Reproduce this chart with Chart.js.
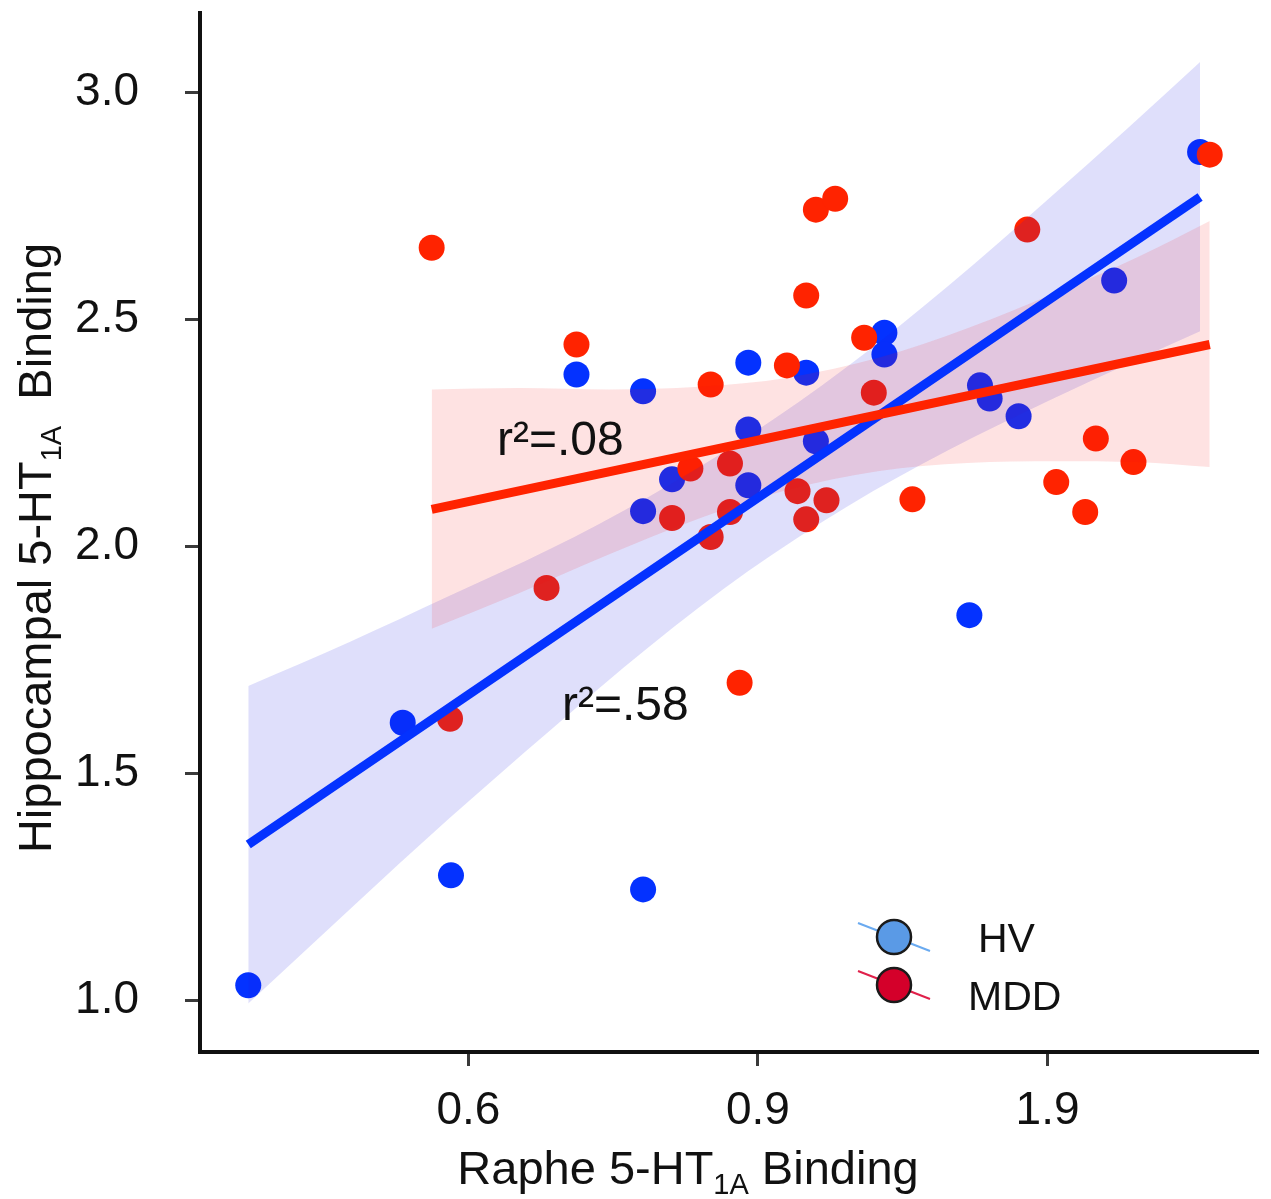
<!DOCTYPE html>
<html>
<head>
<meta charset="utf-8">
<script src="https://cdn.jsdelivr.net/npm/chart.js@4.4.0/dist/chart.umd.min.js"></script>
<style>
  html, body { margin: 0; padding: 0; background: #fff; }
  #wrap { width: 1271px; height: 1199px; }
</style>
</head>
<body>
<div id="wrap"><canvas id="chart" width="1271" height="1199"></canvas></div>
<script>
// values
const hvX = [0.372, 0.532, 0.582, 0.712, 0.781, 0.781, 0.781, 0.811, 0.890, 0.890, 0.890,
  0.950, 0.960, 1.031, 1.031, 1.119, 1.130, 1.140, 1.170, 1.269, 1.358];
const hvY = [1.033, 1.611, 1.275, 2.378, 2.341, 2.077, 1.244, 2.147, 2.404, 2.257, 2.134,
  2.382, 2.231, 2.470, 2.422, 1.848, 2.354, 2.325, 2.286, 2.585, 2.868];

const mddX = [0.562, 0.581, 0.681, 0.712, 0.811, 0.830, 0.851, 0.851, 0.871, 0.871, 0.881,
  0.930, 0.941, 0.950, 0.950, 0.960, 0.971, 0.980, 1.010, 1.020, 1.060, 1.179, 1.209,
  1.239, 1.250, 1.289, 1.368];
const mddY = [2.657, 1.620, 1.908, 2.444, 2.062, 2.171, 2.356, 2.020, 2.182, 2.075, 1.699,
  2.398, 2.121, 2.552, 2.059, 2.741, 2.101, 2.765, 2.459, 2.338, 2.103, 2.697, 2.141,
  2.075, 2.237, 2.185, 2.862];

// fitted lines (end points)
const hvFitX = [0.372, 1.358];
const hvFitY = [1.343, 2.769];
const mddFitX = [0.562, 1.368];
const mddFitY = [2.081, 2.444];

// confidence bands
const hvBandX = [0.372, 0.477, 0.580, 0.684, 0.787, 0.890, 0.993, 1.097, 1.200, 1.283, 1.358];
const hvBandHi = [1.692, 1.789, 1.890, 1.993, 2.109, 2.242, 2.396, 2.573, 2.763, 2.920, 3.066];
const hvBandLo = [0.993, 1.200, 1.400, 1.593, 1.778, 1.945, 2.088, 2.211, 2.319, 2.401, 2.473];

const mddBandX = [0.562, 0.653, 0.746, 0.839, 0.931, 1.024, 1.117, 1.210, 1.293, 1.368];
const mddBandHi = [2.345, 2.348, 2.345, 2.351, 2.371, 2.414, 2.480, 2.559, 2.636, 2.716];
const mddBandLo = [1.818, 1.897, 1.982, 2.061, 2.124, 2.165, 2.183, 2.187, 2.185, 2.174];

// axes
const xTickPos = [0.6, 0.9, 1.2];
const xTickLabels = ['0.6', '0.9', '1.9'];
const yTicks = [1.0, 1.5, 2.0, 2.5, 3.0];
const groupNames = ['HV', 'MDD'];
const r2Labels = ['r\u00B2=.08', 'r\u00B2=.58'];

const FAMILY = '"Liberation Sans", Arial, Helvetica, sans-serif';
const BLUE = '#0432ff';
const RED = '#ff2300';

function pts(xs, ys) {
  return xs.map((x, i) => ({ x, y: ys[i] }));
}

function drawRich(ctx, parts, size, x, y) {
  const subSize = Math.round(size * 0.62);
  const widths = parts.map(([t, sub]) => {
    ctx.font = `${sub ? subSize : size}px ${FAMILY}`;
    return ctx.measureText(t).width;
  });
  const total = widths.reduce((a, b) => a + b, 0);
  let cx = x - total / 2;
  parts.forEach(([t, sub], i) => {
    ctx.font = `${sub ? subSize : size}px ${FAMILY}`;
    ctx.fillText(t, cx, y + (sub ? size * 0.22 : 0));
    cx += widths[i];
  });
}

function legendGlyph(ctx, cx, cy, fill, lineColor) {
  ctx.strokeStyle = lineColor;
  ctx.lineWidth = 2;
  ctx.beginPath();
  ctx.moveTo(cx - 36, cy - 14);
  ctx.lineTo(cx + 36, cy + 14);
  ctx.stroke();
  ctx.beginPath();
  ctx.arc(cx, cy, 17, 0, Math.PI * 2);
  ctx.fillStyle = fill;
  ctx.fill();
  ctx.lineWidth = 2.5;
  ctx.strokeStyle = '#1a1a1a';
  ctx.stroke();
}

const decorations = {
  id: 'decorations',
  afterDraw(chart) {
    const ctx = chart.ctx;
    ctx.save();
    ctx.fillStyle = '#111';
    ctx.textAlign = 'left';
    ctx.textBaseline = 'alphabetic';

    // axis titles with subscripts
    drawRich(ctx, [['Raphe 5-HT', false], ['1A', true], [' Binding', false]], 47, 688, 1184);
    ctx.save();
    ctx.translate(51, 548);
    ctx.rotate(-Math.PI / 2);
    drawRich(ctx, [['Hippocampal 5-HT', false], ['1A', true], ['  Binding', false]], 47, 0, 0);
    ctx.restore();

    // r-squared notes
    ctx.fillStyle = '#111';
    ctx.font = `48px ${FAMILY}`;
    ctx.fillText(r2Labels[0], 497, 455);
    ctx.fillText(r2Labels[1], 562, 720);

    // legend
    legendGlyph(ctx, 894, 937, '#5a9ae6', '#6aaaf0');
    legendGlyph(ctx, 894, 985, '#d4002a', '#e0204a');
    ctx.fillStyle = '#111';
    ctx.font = `41px ${FAMILY}`;
    ctx.fillText(groupNames[0], 978, 952);
    ctx.fillText(groupNames[1], 968, 1010);
    ctx.restore();
  },
};

const lineDefaults = { type: 'line', showLine: true, pointRadius: 0, borderColor: 'transparent', borderWidth: 0, cubicInterpolationMode: 'monotone' };

new Chart(document.getElementById('chart'), {
  type: 'scatter',
  data: {
    datasets: [
      { label: groupNames[0], data: pts(hvX, hvY), backgroundColor: BLUE, pointRadius: 13, borderWidth: 0, order: 12 },
      { label: groupNames[1], data: pts(mddX, mddY), backgroundColor: RED, pointRadius: 13, borderWidth: 0, order: 11 },
      { ...lineDefaults, label: 'hv hi', data: pts(hvBandX, hvBandHi), fill: '+1', backgroundColor: 'rgba(30,30,230,0.14)', order: 6 },
      { ...lineDefaults, label: 'hv lo', data: pts(hvBandX, hvBandLo), fill: false, order: 6 },
      { ...lineDefaults, label: 'mdd hi', data: pts(mddBandX, mddBandHi), fill: '+1', backgroundColor: 'rgba(250,20,20,0.12)', order: 5 },
      { ...lineDefaults, label: 'mdd lo', data: pts(mddBandX, mddBandLo), fill: false, order: 5 },
      { type: 'line', showLine: true, label: 'hv fit', data: pts(hvFitX, hvFitY), borderColor: BLUE, borderWidth: 9, pointRadius: 0, fill: false, order: 2 },
      { type: 'line', showLine: true, label: 'mdd fit', data: pts(mddFitX, mddFitY), borderColor: RED, borderWidth: 9, pointRadius: 0, fill: false, order: 1 },
    ],
  },
  options: {
    responsive: false,
    animation: false,
    devicePixelRatio: 1,
    layout: { padding: { top: 11, right: 10, left: 0, bottom: 0 } },
    plugins: { legend: { display: false }, tooltip: { enabled: false } },
    scales: {
      x: {
        type: 'linear',
        min: 0.322,
        max: 1.418,
        afterBuildTicks: (s) => { s.ticks = xTickPos.map((v) => ({ value: v })); },
        afterFit: (s) => { s.height = 147; s.paddingLeft = 0; s.paddingRight = 0; },
        ticks: {
          callback: (v, i) => xTickLabels[i],
          font: { family: FAMILY, size: 46 },
          color: '#111',
          padding: 18,
          maxRotation: 0,
          autoSkip: false,
        },
        grid: { display: true, drawOnChartArea: false, drawTicks: true, tickLength: 14, tickWidth: 3, tickColor: '#3a3a3a' },
        border: { display: true, color: '#111', width: 4 },
      },
      y: {
        type: 'linear',
        min: 0.886,
        max: 3.174,
        afterBuildTicks: (s) => { s.ticks = yTicks.map((v) => ({ value: v })); },
        afterFit: (s) => { s.width = 200; s.paddingTop = 0; s.paddingBottom = 0; },
        ticks: {
          callback: (v) => v.toFixed(1),
          font: { family: FAMILY, size: 46 },
          color: '#111',
          padding: 46,
        },
        grid: { display: true, drawOnChartArea: false, drawTicks: true, tickLength: 15, tickWidth: 3, tickColor: '#3a3a3a' },
        border: { display: true, color: '#111', width: 4 },
      },
    },
  },
  plugins: [decorations],
});
</script>
</body>
</html>
